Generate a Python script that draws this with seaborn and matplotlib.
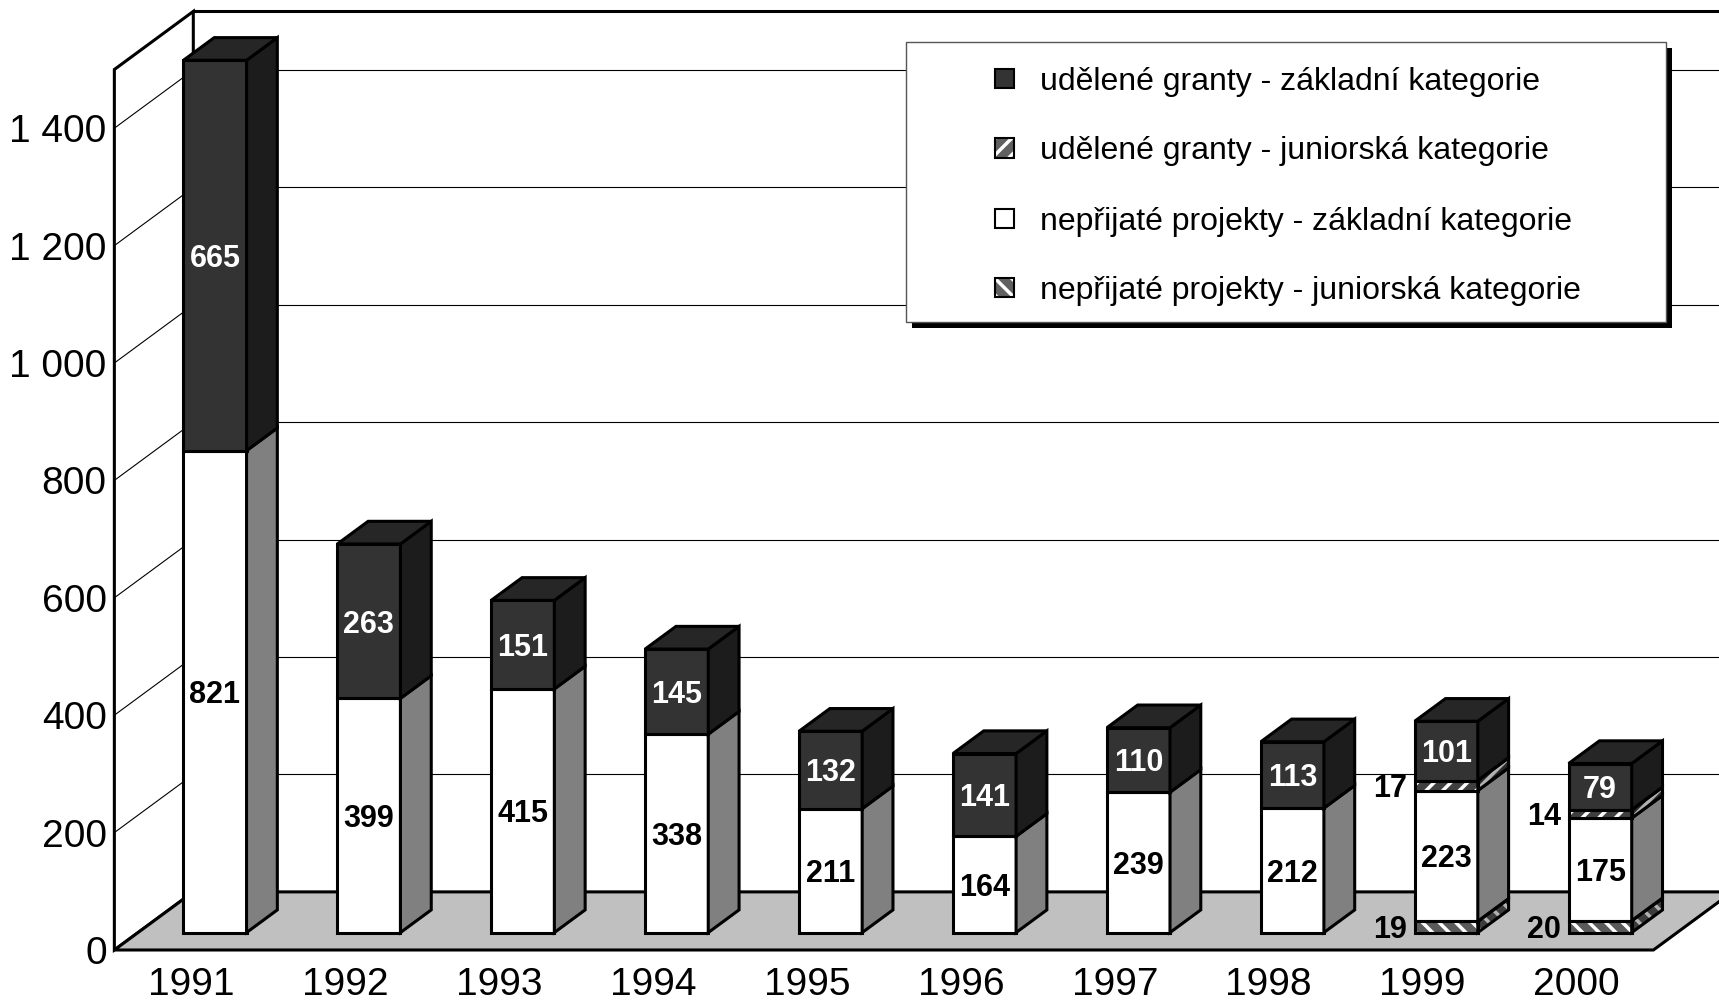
import numpy as np
import pandas as pd
import seaborn as sns
import matplotlib.pyplot as plt
from matplotlib.patches import Polygon, Rectangle

# Data
years = ['1991', '1992', '1993', '1994', '1995', '1996', '1997', '1998', '1999', '2000']
nepr_jun = [0, 0, 0, 0, 0, 0, 0, 0, 19, 20]
nepr_zakl = [821, 399, 415, 338, 211, 164, 239, 212, 223, 175]
udel_jun = [0, 0, 0, 0, 0, 0, 0, 0, 17, 14]
udel_zakl = [665, 263, 151, 145, 132, 141, 110, 113, 101, 79]
y_ticks = [0, 200, 400, 600, 800, 1000, 1200, 1400]
legend_labels = ['udělené granty - základní kategorie',
                 'udělené granty - juniorská kategorie',
                 'nepřijaté projekty - základní kategorie',
                 'nepřijaté projekty - juniorská kategorie']

sns.set_theme(style='white')
plt.rcParams['font.family'] = ['Liberation Sans', 'DejaVu Sans']
plt.rcParams['hatch.linewidth'] = 2.5

fig = plt.figure(figsize=(17.19, 10.02), dpi=100)
ax = fig.add_axes([0, 0, 1, 1])

# pseudo 3D geometry (category units / value units)
DX, DY = 0.513, 99.0
F0, F1 = 0.30, 0.69
X_LEFT, X_RIGHT = -0.5, 9.5
WALL_TOP = 1500
BAR_W = 0.41
bdx, bdy = (F1 - F0) * DX, (F1 - F0) * DY
LW = 2.2

# walls and floor
ax.add_patch(Polygon([(X_LEFT, 0), (X_LEFT, WALL_TOP), (X_LEFT + DX, WALL_TOP + DY),
                      (X_LEFT + DX, DY)], closed=True, facecolor='white',
                     edgecolor='black', lw=LW, zorder=1))
ax.plot([X_LEFT + DX, X_RIGHT + DX + 1], [WALL_TOP + DY] * 2, color='black', lw=LW, zorder=1)
for v in y_ticks[1:]:
    ax.plot([X_LEFT, X_LEFT + DX], [v, v + DY], color='black', lw=0.8, zorder=1.2)
    ax.plot([X_LEFT + DX, X_RIGHT + DX + 1], [v + DY] * 2, color='black', lw=0.8, zorder=1.2)
ax.add_patch(Polygon([(X_LEFT, 0), (X_RIGHT, 0), (X_RIGHT + DX, DY), (X_LEFT + DX, DY)],
                     closed=True, facecolor='#c0c0c0', edgecolor='black', lw=LW, zorder=1.5))

series = [
    # values, front, side, top, hatch, label color, outside label
    (nepr_jun, '#5a5a5a', '#3c3c3c', '#4a4a4a', '\\\\', 'black', True),
    (nepr_zakl, 'white', '#808080', '#e0e0e0', None, 'black', False),
    (udel_jun, '#404040', '#2a2a2a', '#333333', '//', 'black', True),
    (udel_zakl, '#333333', '#1c1c1c', '#262626', None, 'white', False),
]


def add_face(pts, face, hatch):
    if hatch:
        ax.add_patch(Polygon(pts, closed=True, facecolor=face, edgecolor='#b0b0b0',
                             hatch=hatch, lw=0, zorder=3))
        ax.add_patch(Polygon(pts, closed=True, fill=False, edgecolor='black', lw=LW, zorder=3.1))
    else:
        ax.add_patch(Polygon(pts, closed=True, facecolor=face, edgecolor='black',
                             lw=LW, zorder=3, joinstyle='miter'))


x_pos = np.arange(len(years)) + F0 * DX
base = np.zeros(len(years))
totals = np.sum([nepr_jun, nepr_zakl, udel_jun, udel_zakl], axis=0)

for vals, front, side, top, hatch, tcol, outside in series:
    vals = np.array(vals, dtype=float)
    df = pd.DataFrame({'x': x_pos, 'value': vals, 'bottom': base + F0 * DY})
    df = df[df['value'] > 0]
    if hatch:
        sns.barplot(data=df, x='x', y='value', native_scale=True, orient='x', width=BAR_W,
                    bottom=df['bottom'].values, color=front, saturation=1, errorbar=None,
                    edgecolor='white', hatch=hatch, linewidth=0, ax=ax, zorder=3)
    else:
        sns.barplot(data=df, x='x', y='value', native_scale=True, orient='x', width=BAR_W,
                    bottom=df['bottom'].values, color=front, saturation=1, errorbar=None,
                    edgecolor='black', linewidth=LW, ax=ax, zorder=3)
    bars = ax.containers[-1]
    for rect, (_, row) in zip(bars.patches, df.iterrows()):
        x0, b = rect.get_x(), rect.get_y()
        w, h = rect.get_width(), rect.get_height()
        x1, t = x0 + w, b + h
        if hatch:
            ax.add_patch(Rectangle((x0, b), w, h, fill=False, edgecolor='black', lw=LW, zorder=3.1))
        add_face([(x1, b), (x1 + bdx, b + bdy), (x1 + bdx, t + bdy), (x1, t)], side, hatch)
        i = int(round(row['x'] - F0 * DX))
        if abs((t - F0 * DY) - totals[i]) < 1e-6:
            add_face([(x0, t), (x1, t), (x1 + bdx, t + bdy), (x0 + bdx, t + bdy)], top, None)
        if outside:
            ax.text(x0 - 0.05, b + h / 2, f'{int(row["value"])}', ha='right', va='center_baseline',
                    fontsize=22, fontweight='bold', color=tcol, zorder=5)
        else:
            ax.text(x0 + w / 2, b + h / 2, f'{int(row["value"])}', ha='center', va='center_baseline',
                    fontsize=22, fontweight='bold', color=tcol, zorder=5)
    base = base + vals

# axis labels
for v in y_ticks:
    ax.text(X_LEFT - 0.05, v, f'{v:,}'.replace(',', ' '), ha='right', va='center_baseline',
            fontsize=28, color='black')
for i, yr in enumerate(years):
    ax.text(i, -52, yr, ha='center', va='center_baseline', fontsize=28, color='black')

# legend box
lx0, lx1, ly0, ly1 = 0.5268, 0.9694, 0.6783, 0.9584
ax.add_patch(Rectangle((lx0 + 0.0035, ly0 - 0.006), lx1 - lx0, ly1 - ly0, transform=ax.transAxes,
                       facecolor='black', edgecolor='none', zorder=9))
ax.add_patch(Rectangle((lx0, ly0), lx1 - lx0, ly1 - ly0, transform=ax.transAxes,
                       facecolor='white', edgecolor='#555555', lw=1, zorder=10))
leg_styles = [('#333333', None), ('#606060', '//'), ('white', None), ('#606060', '\\\\')]
rows_y = [0.9212, 0.8523, 0.7824, 0.7126]
mw, mh = 0.0111, 0.019
for (fc, hatch), label, ry in zip(leg_styles, legend_labels, rows_y):
    if hatch:
        ax.add_patch(Rectangle((0.5788, ry - mh / 2), mw, mh, transform=ax.transAxes,
                               facecolor=fc, edgecolor='white', hatch=hatch, lw=0, zorder=11))
    ax.add_patch(Rectangle((0.5788, ry - mh / 2), mw, mh, transform=ax.transAxes,
                           facecolor=fc if not hatch else 'none', edgecolor='black', lw=1.5, zorder=11))
    ax.text(0.605, ry, label, transform=ax.transAxes, ha='left', va='center_baseline',
            fontsize=23, color='black', zorder=11)

ax.set_xlim(-1.243, 9.926)
ax.set_ylim(-88.6, 1618.4)
ax.set_axis_off()

plt.savefig('out.png', dpi=100)
